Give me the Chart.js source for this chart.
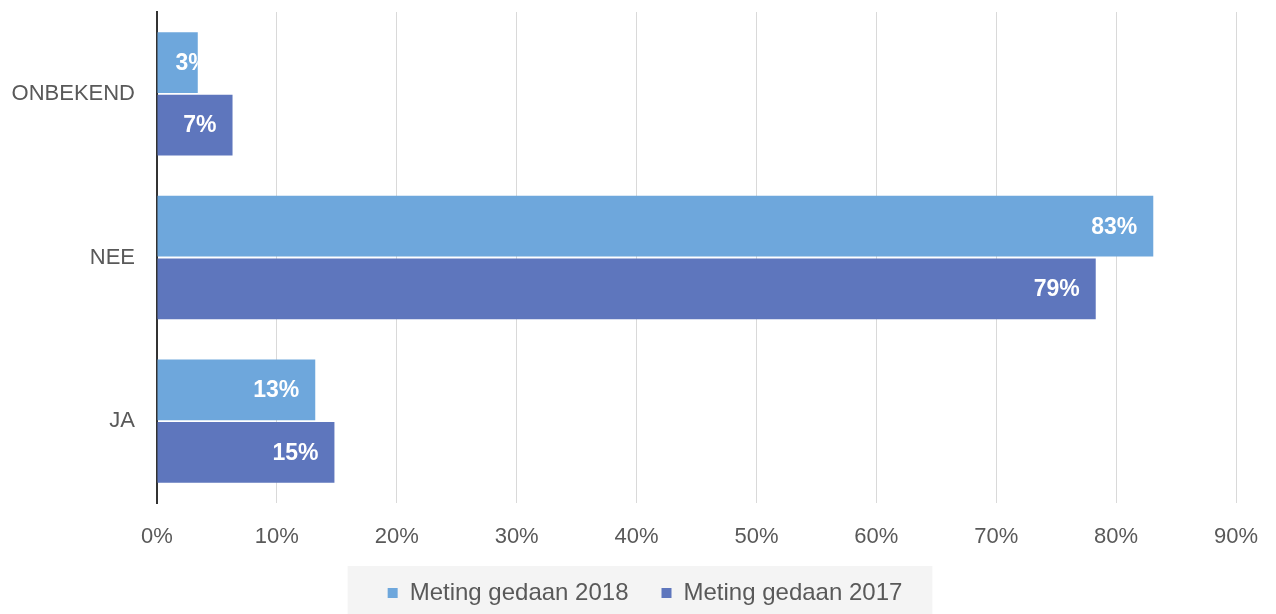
<!DOCTYPE html>
<html>
<head>
<meta charset="utf-8">
<script src="https://cdn.jsdelivr.net/npm/chart.js@4/dist/chart.umd.min.js"></script>
<style>
  html, body { margin: 0; padding: 0; background: #ffffff; }
  #wrap { width: 1276px; height: 614px; position: relative; }
</style>
</head>
<body>
<div id="wrap"><canvas id="c" width="1276" height="614"></canvas></div>
<script>
const categories = ['ONBEKEND', 'NEE', 'JA'];
const seriesNames = ['Meting gedaan 2018', 'Meting gedaan 2017'];
const values2018 = [3.4, 83.1, 13.2];
const values2017 = [6.3, 78.3, 14.8];
const labels2018 = ['3%', '83%', '13%'];
const labels2017 = ['7%', '79%', '15%'];
const xTicks = [0, 10, 20, 30, 40, 50, 60, 70, 80, 90];

const FONT = "'Liberation Sans', Arial, sans-serif";
const TEXT = '#595959';
const PAD_L = 10, PAD_R = 40;
const LEGEND_H = 66;

const dataLabels = {
  id: 'dataLabels',
  afterDatasetsDraw(chart) {
    const ctx = chart.ctx;
    const lists = [labels2018, labels2017];
    chart.data.datasets.forEach((ds, di) => {
      const meta = chart.getDatasetMeta(di);
      meta.data.forEach((bar, i) => {
        const txt = lists[di][i];
        ctx.save();
        ctx.font = 'bold 23px ' + FONT;
        const w = ctx.measureText(txt).width;
        const h = bar.height;
        ctx.beginPath();
        ctx.rect(bar.base, bar.y - h / 2, bar.x - bar.base, h);
        ctx.clip();
        ctx.fillStyle = '#ffffff';
        ctx.textAlign = 'right';
        ctx.textBaseline = 'middle';
        const xr = Math.max(bar.x - 16, bar.base + 18 + w);
        ctx.fillText(txt, xr, bar.y + 1);
        ctx.restore();
      });
    });
  }
};

const legendShift = {
  id: 'legendShift',
  afterLayout(chart) {
    const lg = chart.legend;
    if (lg) { lg.left += 22; lg.right += 22; }
  },
  beforeDraw(chart) {
    const lg = chart.legend;
    if (!lg || !lg.legendHitBoxes || !lg.legendHitBoxes.length) return;
    const hb = lg.legendHitBoxes;
    const minX = Math.min(...hb.map(b => b.left));
    const maxX = Math.max(...hb.map(b => b.left + b.width));
    const ctx = chart.ctx;
    ctx.save();
    ctx.fillStyle = '#f4f4f4';
    ctx.fillRect(minX - 40, 566, (maxX - minX) + 40 + 30, 48);
    ctx.restore();
  }
};

new Chart(document.getElementById('c'), {
  type: 'bar',
  data: {
    labels: categories,
    datasets: [
      { label: seriesNames[0], data: values2018, backgroundColor: '#6ea7dc', borderWidth: 0 },
      { label: seriesNames[1], data: values2017, backgroundColor: '#5e76bd', borderWidth: 0 }
    ]
  },
  options: {
    indexAxis: 'y',
    responsive: false,
    animation: false,
    devicePixelRatio: 1,
    layout: { padding: { top: 12, left: PAD_L, right: PAD_R, bottom: 0 } },
    datasets: { bar: { categoryPercentage: 0.765, barPercentage: 0.97 } },
    scales: {
      x: {
        type: 'linear',
        min: 0, max: 90,
        afterBuildTicks(scale) { scale.ticks = xTicks.map(v => ({ value: v })); },
        afterFit(scale) {
          scale.height = 614 - 503 - LEGEND_H;
          scale.paddingLeft = 0;
          scale.paddingRight = 0;
        },
        grid: { color: '#d9d9d9', lineWidth: 1, drawTicks: false },
        border: { display: false },
        ticks: {
          color: TEXT,
          font: { family: FONT, size: 22 },
          padding: 21,
          callback: v => v + '%'
        }
      },
      y: {
        afterFit(scale) {
          scale.width = 157 - PAD_L;
          scale.paddingTop = 0;
          scale.paddingBottom = 0;
        },
        grid: { display: false, drawTicks: false },
        border: { display: true, color: '#333333', width: 2 },
        ticks: {
          color: TEXT,
          font: { family: FONT, size: 22 },
          padding: 22
        }
      }
    },
    plugins: {
      legend: {
        position: 'bottom',
        maxHeight: LEGEND_H,
        labels: {
          color: TEXT,
          font: { family: FONT, size: 24 },
          boxWidth: 10,
          boxHeight: 10,
          padding: 33
        }
      },
      tooltip: { enabled: false },
      title: { display: false }
    }
  },
  plugins: [legendShift, dataLabels]
});
</script>
</body>
</html>
